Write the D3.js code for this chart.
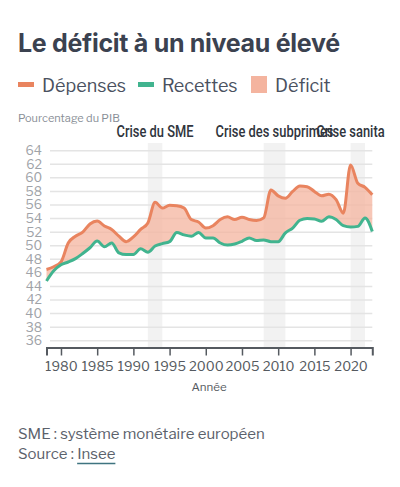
<!DOCTYPE html>
<html><head><meta charset="utf-8">
<script src="https://cdn.jsdelivr.net/npm/d3@7"></script>
<style>
body{margin:0;background:#fff;}
svg{display:block;}
</style></head>
<body>
<svg id="c" width="400" height="487"></svg>
<script>
const years = [1978,1979,1980,1981,1982,1983,1984,1985,1986,1987,1988,1989,1990,1991,1992,1993,1994,1995,1996,1997,1998,1999,2000,2001,2002,2003,2004,2005,2006,2007,2008,2009,2010,2011,2012,2013,2014,2015,2016,2017,2018,2019,2020,2021,2022,2023];
const depenses = [46.5,46.9,47.6,50.4,51.4,52.0,53.2,53.65,52.9,52.4,51.4,50.6,51.3,52.4,53.35,56.4,55.55,55.95,55.9,55.55,53.85,53.5,52.6,52.95,53.85,54.25,53.85,54.2,53.85,53.7,54.1,58.2,57.35,57.0,58.0,58.8,58.7,58.0,57.35,57.6,56.8,54.8,61.9,59.2,58.6,57.5];
const recettes = [44.8,46.3,47.2,47.6,48.1,48.85,49.7,50.7,49.85,50.4,48.95,48.7,48.7,49.55,49.05,49.95,50.3,50.6,51.95,51.6,51.4,51.95,51.15,51.15,50.4,50.1,50.25,50.65,51.15,50.75,50.85,50.6,50.6,51.9,52.6,53.75,54.0,53.95,53.6,54.25,53.85,52.95,52.75,52.85,54.1,52.1];
const yTicks = [36,38,40,42,44,46,48,50,52,54,56,58,60,62,64];
const xTicks = [1980,1985,1990,1995,2000,2005,2010,2015,2020];
const crises = [
  {label:"Crise du SME", start:1992, end:1994},
  {label:"Crise des subprimes", start:2008, end:2011},
  {label:"Crise sanitaire", start:2020, end:2022}
];
const legendItems = [
  {label:"Dépenses", type:"line", color:"#e9845f"},
  {label:"Recettes", type:"line", color:"#41b48f"},
  {label:"Déficit", type:"rect", color:"#f4b49f"}
];

const data = years.map((y,i)=>({year:y, dep:depenses[i], rec:recettes[i]}));
const svg = d3.select("#c");
const font = "'Libre Franklin', Roboto, 'Noto Sans', sans-serif";

svg.append("defs").append("clipPath").attr("id","clip")
  .append("rect").attr("x",0).attr("y",0).attr("width",385).attr("height",487);

// Title
svg.append("text").attr("x",18).attr("y",52)
  .attr("font-family","Inter, Roboto, sans-serif").attr("font-weight",700)
  .attr("font-size",25).attr("fill","#3b4250").attr("letter-spacing",-0.3)
  .text("Le déficit à un niveau élevé");

// Legend
const lg = svg.append("g");
const lgXs = [18,138,251];
legendItems.forEach((d,i)=>{
  const x = lgXs[i];
  if(d.type==="line"){
    lg.append("rect").attr("x",x).attr("y",82).attr("width",16).attr("height",5).attr("fill",d.color);
  } else {
    lg.append("rect").attr("x",x).attr("y",76).attr("width",16).attr("height",17).attr("fill",d.color);
  }
  lg.append("text").attr("x",x+24).attr("y",91.5)
    .attr("font-family",font).attr("font-size",18).attr("fill","#4a5160").text(d.label);
});

svg.append("text").attr("x",18).attr("y",122)
  .attr("font-family",font).attr("font-size",11).attr("fill","#8a8f97").text("Pourcentage du PIB");

const x = d3.scaleLinear().domain([1978,2023]).range([46.5,372.3]);
const y = d3.scaleLinear().domain([35,64]).range([347.5,150.7]);

// crisis bands
svg.append("g").selectAll("rect").data(crises).join("rect")
  .attr("x",d=>x(d.start)).attr("width",d=>x(d.end)-x(d.start))
  .attr("y",143).attr("height",347.5-143).attr("fill","#f2f2f2");

// gridlines
svg.append("g").selectAll("line").data(yTicks).join("line")
  .attr("x1",50).attr("x2",372.3).attr("y1",d=>y(d)).attr("y2",d=>y(d))
  .attr("stroke","#e4e4e4").attr("stroke-width",1.5);

// y labels
svg.append("g").selectAll("text").data(yTicks).join("text")
  .attr("x",42).attr("y",d=>y(d)).attr("dy","0.35em").attr("text-anchor","end")
  .attr("font-family",font).attr("font-size",12.5).attr("fill","#a0a3a8").text(d=>d);

// crisis labels (condensed look)
const cl = svg.append("g").attr("clip-path","url(#clip)").selectAll("text").data(crises).join("text")
  .attr("x",d=>x((d.start+d.end)/2)).attr("y",136.5).attr("text-anchor","middle")
  .attr("font-family","Roboto, sans-serif").attr("font-weight",500)
  .attr("font-size",17).attr("fill","#30353d").text(d=>d.label);
const natural0 = cl.nodes()[0].getComputedTextLength();
const k = 77/natural0;
cl.each(function(){
  const w = this.getComputedTextLength();
  d3.select(this).attr("textLength", w*k).attr("lengthAdjust","spacingAndGlyphs");
});

// area
const curve = d3.curveMonotoneX;
svg.append("path").datum(data)
  .attr("d", d3.area().x(d=>x(d.year)).y0(d=>y(d.rec)).y1(d=>y(d.dep)).curve(curve))
  .attr("fill","#f4b49f").attr("fill-opacity",0.75);

svg.append("path").datum(data)
  .attr("d", d3.line().x(d=>x(d.year)).y(d=>y(d.dep)).curve(curve))
  .attr("fill","none").attr("stroke","#e9845f").attr("stroke-width",3);
svg.append("path").datum(data)
  .attr("d", d3.line().x(d=>x(d.year)).y(d=>y(d.rec)).curve(curve))
  .attr("fill","none").attr("stroke","#41b48f").attr("stroke-width",3);

// x axis
const xa = svg.append("g").attr("transform","translate(0,347.5)")
  .call(d3.axisBottom(x).tickValues(xTicks).tickFormat(d3.format("d")).tickSize(8).tickPadding(6));
xa.select(".domain").attr("stroke","#555a60").attr("stroke-width",2);
xa.selectAll(".tick line").attr("stroke","#555a60").attr("stroke-width",1.5);
xa.selectAll("text").attr("font-family",font).attr("font-size",13).attr("fill","#555a60");

svg.append("text").attr("x",209).attr("y",391).attr("text-anchor","middle")
  .attr("font-family",font).attr("font-size",11.5).attr("fill","#555a60").text("Année");

// footer
svg.append("text").attr("x",18).attr("y",439)
  .attr("font-family",font).attr("font-size",15).attr("fill","#5b616b").text("SME : système monétaire européen");
const src = svg.append("text").attr("x",18).attr("y",459)
  .attr("font-family",font).attr("font-size",15).attr("fill","#5b616b");
src.append("tspan").text("Source : ");
const ins = src.append("tspan").text("Insee");
const bb = ins.node().getBBox ? null : null;
// underline for "Insee"
const srcNode = src.node();
const startX = srcNode.getStartPositionOfChar(9).x;
const endX = srcNode.getEndPositionOfChar(13).x;
svg.append("line").attr("x1",startX).attr("x2",endX).attr("y1",463.5).attr("y2",463.5)
  .attr("stroke","#3f7480").attr("stroke-width",1.3);
</script>
</body></html>
